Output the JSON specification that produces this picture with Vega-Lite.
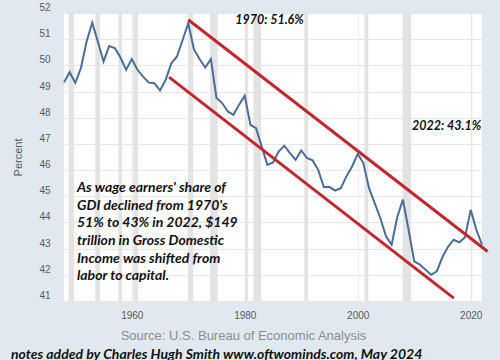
{
  "$schema": "https://vega.github.io/schema/vega-lite/v6.json",
  "width": 418,
  "height": 288,
  "autosize": {"type": "none"},
  "padding": {"left": 64, "top": 13, "right": 18, "bottom": 59},
  "background": "#e1e9f0",
  "config": {
    "view": {"fill": "white", "stroke": null},
    "font": "Liberation Sans"
  },
  "title": {
    "text": "notes added by Charles Hugh Smith www.oftwominds.com, May 2024",
    "orient": "bottom",
    "anchor": "start",
    "frame": "group",
    "font": "Lato",
    "fontSize": 14,
    "fontStyle": "italic",
    "fontWeight": "bold",
    "color": "#111111",
    "baseline": "top",
    "dx": -53,
    "offset": 6
  },
  "datasets": {
    "share": [
      {"year": 1948, "value": 49.35}, {"year": 1949, "value": 49.74}, {"year": 1950, "value": 49.33},
      {"year": 1951, "value": 49.9}, {"year": 1952, "value": 50.91}, {"year": 1953, "value": 51.63},
      {"year": 1954, "value": 50.9}, {"year": 1955, "value": 50.15}, {"year": 1956, "value": 50.74},
      {"year": 1957, "value": 50.66}, {"year": 1958, "value": 50.3}, {"year": 1959, "value": 49.83},
      {"year": 1960, "value": 50.24}, {"year": 1961, "value": 49.83}, {"year": 1962, "value": 49.57},
      {"year": 1963, "value": 49.34}, {"year": 1964, "value": 49.32}, {"year": 1965, "value": 49.04},
      {"year": 1966, "value": 49.45}, {"year": 1967, "value": 50.08}, {"year": 1968, "value": 50.34},
      {"year": 1969, "value": 50.97}, {"year": 1970, "value": 51.61}, {"year": 1971, "value": 50.62},
      {"year": 1972, "value": 50.24}, {"year": 1973, "value": 49.92}, {"year": 1974, "value": 50.24},
      {"year": 1975, "value": 48.75}, {"year": 1976, "value": 48.56}, {"year": 1977, "value": 48.24},
      {"year": 1978, "value": 48.11}, {"year": 1979, "value": 48.5}, {"year": 1980, "value": 48.84},
      {"year": 1981, "value": 47.73}, {"year": 1982, "value": 47.6}, {"year": 1983, "value": 46.9},
      {"year": 1984, "value": 46.2}, {"year": 1985, "value": 46.29}, {"year": 1986, "value": 46.71},
      {"year": 1987, "value": 46.93}, {"year": 1988, "value": 46.65}, {"year": 1989, "value": 46.39},
      {"year": 1990, "value": 46.75}, {"year": 1991, "value": 46.46}, {"year": 1992, "value": 46.37},
      {"year": 1993, "value": 46.01}, {"year": 1994, "value": 45.35}, {"year": 1995, "value": 45.35},
      {"year": 1996, "value": 45.22}, {"year": 1997, "value": 45.31}, {"year": 1998, "value": 45.76},
      {"year": 1999, "value": 46.14}, {"year": 2000, "value": 46.62}, {"year": 2001, "value": 46.27},
      {"year": 2002, "value": 45.31}, {"year": 2003, "value": 44.74}, {"year": 2004, "value": 44.17},
      {"year": 2005, "value": 43.47}, {"year": 2006, "value": 43.15}, {"year": 2007, "value": 44.21},
      {"year": 2008, "value": 44.87}, {"year": 2009, "value": 43.72}, {"year": 2010, "value": 42.51},
      {"year": 2011, "value": 42.39}, {"year": 2012, "value": 42.19}, {"year": 2013, "value": 42.0},
      {"year": 2014, "value": 42.13}, {"year": 2015, "value": 42.68}, {"year": 2016, "value": 43.08},
      {"year": 2017, "value": 43.34}, {"year": 2018, "value": 43.24}, {"year": 2019, "value": 43.44},
      {"year": 2020, "value": 44.48}, {"year": 2021, "value": 43.72}, {"year": 2022, "value": 43.15}
    ],
    "recessions": [
      {"start": 1948.83, "end": 1949.79}, {"start": 1953.54, "end": 1954.38},
      {"start": 1957.63, "end": 1958.29}, {"start": 1960.29, "end": 1961.13},
      {"start": 1969.96, "end": 1970.88}, {"start": 1973.88, "end": 1975.21},
      {"start": 1980.04, "end": 1980.54}, {"start": 1981.54, "end": 1982.88},
      {"start": 1990.54, "end": 1991.21}, {"start": 2001.21, "end": 2001.88},
      {"start": 2007.96, "end": 2009.46}, {"start": 2020.13, "end": 2020.29}
    ],
    "trend": [
      {"line": "upper", "year": 1970.0, "value": 51.74},
      {"line": "upper", "year": 2023.0, "value": 42.89},
      {"line": "lower", "year": 1966.6, "value": 49.55},
      {"line": "lower", "year": 2017.0, "value": 41.11}
    ],
    "labels": [
      {"year": 1978.3, "value": 51.74, "text": "1970: 51.6%"},
      {"year": 2009.6, "value": 47.69, "text": "2022: 43.1%"}
    ],
    "note": [
      {"year": 1950.3, "value": 45.59, "text": "As wage earners' share of\nGDI declined from 1970's\n51% to 43% in 2022, $149\ntrillion in Gross Domestic\nIncome was shifted from\nlabor to capital."}
    ]
  },
  "encoding": {
    "x": {
      "field": "year", "type": "quantitative",
      "scale": {"domain": [1948, 2022], "nice": false, "zero": false},
      "axis": {
        "values": [1960, 1980, 2000, 2020], "format": "d",
        "labelFontSize": 10, "labelColor": "#595959", "labelPadding": 9,
        "ticks": false, "domain": false, "grid": true, "gridColor": "#ebebeb",
        "title": "Source: U.S. Bureau of Economic Analysis",
        "titleFontSize": 13, "titleFontWeight": "normal", "titleColor": "#8c8c8c",
        "titleX": 179, "titleY": 34, "titleBaseline": "middle", "titleAlign": "center"
      }
    },
    "y": {
      "field": "value", "type": "quantitative",
      "scale": {"domain": [41, 52], "nice": false, "zero": false},
      "axis": {
        "values": [41, 42, 43, 44, 45, 46, 47, 48, 49, 50, 51, 52],
        "labelOverlap": false, "labelSeparation": 0,
        "labelFontSize": 10, "labelColor": "#595959", "labelPadding": 14,
        "labelOffset": -5.5, "labelBound": false, "labelFlush": false,
        "ticks": false, "domain": false, "grid": true, "gridColor": "#e6e6e6",
        "title": "Percent", "titleFontSize": 11, "titleFontWeight": "normal",
        "titleColor": "#595959", "titleX": -46, "titleY": 144,
        "titleBaseline": "middle", "titleAlign": "center"
      }
    }
  },
  "layer": [
    {
      "data": {"name": "recessions"},
      "mark": {"type": "rect", "color": "#e3e3e3"},
      "encoding": {
        "x": {"field": "start", "type": "quantitative"},
        "x2": {"field": "end"},
        "y": null
      }
    },
    {
      "data": {"name": "share"},
      "mark": {"type": "line", "color": "#4a6d96", "strokeWidth": 2}
    },
    {
      "data": {"name": "trend"},
      "mark": {"type": "line", "color": "#c1272d", "strokeWidth": 3, "clip": false},
      "encoding": {
        "detail": {"field": "line"}
      }
    },
    {
      "data": {"name": "labels"},
      "mark": {"type": "text", "font": "Lato", "fontSize": 12.5, "fontStyle": "italic", "fontWeight": "bold", "color": "#111111", "align": "left", "baseline": "middle"},
      "encoding": {
        "text": {"field": "text"}
      }
    },
    {
      "data": {"name": "note"},
      "mark": {"type": "text", "font": "Lato", "fontSize": 14, "fontStyle": "italic", "fontWeight": "bold", "color": "#111111", "align": "left", "baseline": "top", "lineBreak": "\n", "lineHeight": 17.7},
      "encoding": {
        "text": {"field": "text"}
      }
    },
    {
      "data": {"values": [{}]},
      "mark": {"type": "rect", "color": "white", "clip": false},
      "encoding": {
        "x": {"datum": 1930},
        "x2": {"datum": 2035},
        "y": {"datum": 39.33},
        "y2": {"datum": 37.0}
      }
    }
  ]
}
